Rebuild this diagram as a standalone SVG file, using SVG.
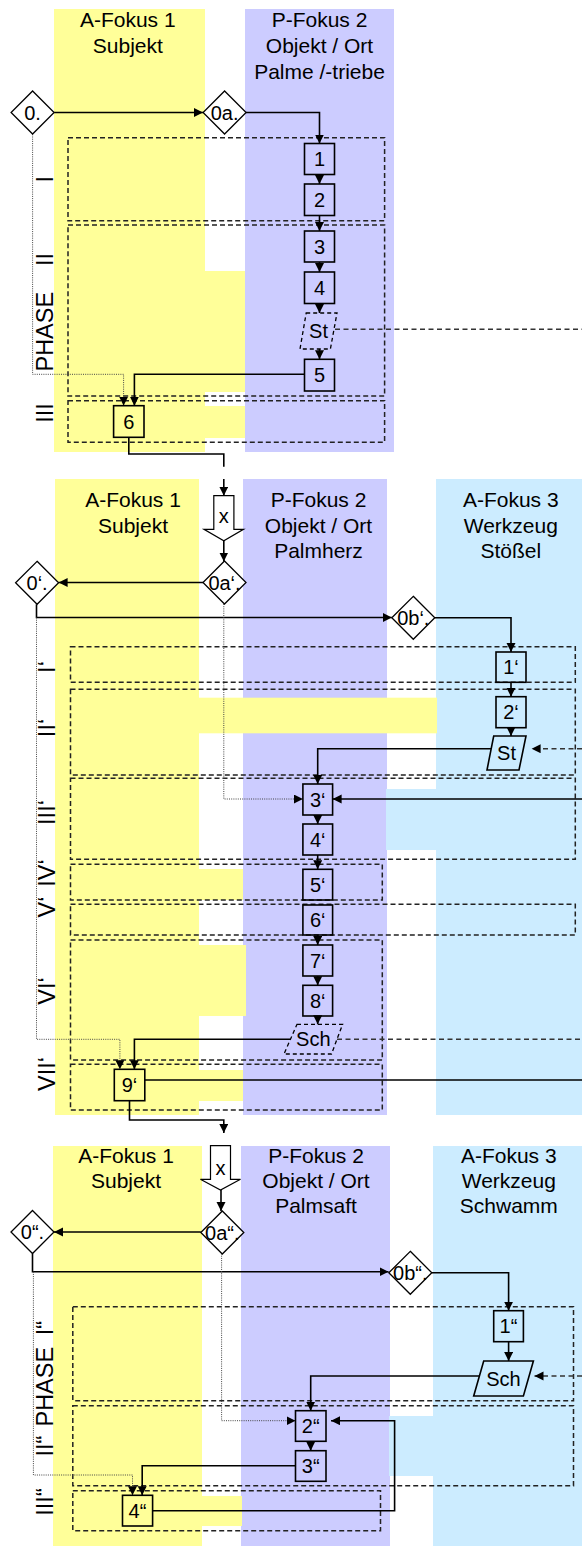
<svg xmlns="http://www.w3.org/2000/svg" width="582" height="1546" viewBox="0 0 582 1546">
<style>
text{font-family:"Liberation Sans",Arial,sans-serif;fill:#000}
.h{font-size:21px;text-anchor:middle}
.n{font-size:20px;text-anchor:middle}
.v{font-size:23.5px;text-anchor:middle}
.y{fill:#FFFF99}
.p{fill:#CCCCFF}
.b{fill:#CCECFF}
.ph{fill:none;stroke:#222;stroke-width:1.5;stroke-dasharray:5 3}
.c{fill:none;stroke:#000;stroke-width:1.6}
.ca{fill:none;stroke:#000;stroke-width:1.6;marker-end:url(#ah)}
.dt{fill:none;stroke:#444;stroke-width:1;stroke-dasharray:1 1.2}
.dta{fill:none;stroke:#444;stroke-width:1;stroke-dasharray:1 1.2;marker-end:url(#ah)}
.ds{fill:none;stroke:#333;stroke-width:1.5;stroke-dasharray:5 3.5}
.dsa{fill:none;stroke:#333;stroke-width:1.5;stroke-dasharray:5 3.5;marker-end:url(#ah)}
.bx{fill:none;stroke:#000;stroke-width:1.6}
.pd{fill:none;stroke:#000;stroke-width:1.3;stroke-dasharray:4 3}
.dm{fill:#fff;stroke:#000;stroke-width:1.3}
.xb{fill:#fff;stroke:#000;stroke-width:1.2}
</style>
<defs>
<marker id="ah" markerWidth="10" markerHeight="10" refX="9" refY="4.5" orient="auto" markerUnits="userSpaceOnUse"><path d="M0,0 L9,4.5 L0,9 z" fill="#000"/></marker>
</defs>

<g id="lanes">
<rect class="y" x="54" y="9" width="151" height="443"/>
<rect class="y" x="204" y="271" width="42" height="121"/>
<rect class="y" x="204" y="406" width="42" height="32"/>
<rect class="p" x="245" y="9" width="149" height="443"/>

<rect class="p" x="243" y="479" width="144" height="636"/>
<rect class="b" x="436" y="479" width="146" height="636"/>
<rect class="b" x="386" y="789" width="51" height="61"/>
<rect class="y" x="55" y="479" width="144" height="636"/>
<rect class="y" x="198" y="697.7" width="239" height="35.6"/>
<rect class="y" x="198" y="869" width="45" height="31"/>
<rect class="y" x="198" y="945" width="48" height="71"/>
<rect class="y" x="198" y="1070" width="45" height="31"/>

<rect class="p" x="241" y="1146" width="149" height="400"/>
<rect class="b" x="433" y="1146" width="149" height="400"/>
<rect class="b" x="389" y="1416" width="45" height="60"/>
<rect class="y" x="53" y="1146" width="149" height="400"/>
<rect class="y" x="201" y="1496" width="41" height="30"/>
</g>

<g id="headers">
<text class="h" x="127.8" y="26.7">A-Fokus 1</text>
<text class="h" x="127.8" y="53">Subjekt</text>
<text class="h" x="319.5" y="26.7">P-Fokus 2</text>
<text class="h" x="319.5" y="53">Objekt / Ort</text>
<text class="h" x="319.5" y="79.3">Palme /-triebe</text>

<text class="h" x="133" y="506.7">A-Fokus 1</text>
<text class="h" x="133" y="532.7">Subjekt</text>
<text class="h" x="318.5" y="506.7">P-Fokus 2</text>
<text class="h" x="318.5" y="532.7">Objekt / Ort</text>
<text class="h" x="318.5" y="558.3">Palmherz</text>
<text class="h" x="510.8" y="507">A-Fokus 3</text>
<text class="h" x="510.8" y="533">Werkzeug</text>
<text class="h" x="510.8" y="558.3">Stößel</text>

<text class="h" x="126" y="1162.7">A-Fokus 1</text>
<text class="h" x="126" y="1187.5">Subjekt</text>
<text class="h" x="316" y="1162.7">P-Fokus 2</text>
<text class="h" x="316" y="1187.5">Objekt / Ort</text>
<text class="h" x="316" y="1213.3">Palmsaft</text>
<text class="h" x="508.8" y="1162.7">A-Fokus 3</text>
<text class="h" x="508.8" y="1187.5">Werkzeug</text>
<text class="h" x="508.8" y="1213.3">Schwamm</text>
</g>

<g id="phases">
<rect class="ph" x="68" y="137.7" width="316.6" height="83"/>
<rect class="ph" x="68" y="225" width="316.6" height="171"/>
<rect class="ph" x="68" y="400.7" width="316.6" height="41.6"/>

<rect class="ph" x="70.5" y="646.7" width="504.8" height="35.6"/>
<rect class="ph" x="70.5" y="689.3" width="504.8" height="85.7"/>
<rect class="ph" x="70.5" y="778.3" width="504.8" height="81"/>
<rect class="ph" x="70.5" y="864.3" width="311.8" height="35.7"/>
<rect class="ph" x="70.5" y="904.3" width="504.8" height="30.7"/>
<rect class="ph" x="70.5" y="940" width="311.8" height="120"/>
<rect class="ph" x="70.5" y="1064.3" width="311.8" height="45.7"/>

<rect class="ph" x="72.8" y="1306.7" width="500.7" height="94"/>
<rect class="ph" x="72.8" y="1405.7" width="500.7" height="80"/>
<rect class="ph" x="72.8" y="1490.7" width="307.7" height="40"/>

<text class="v" transform="translate(53.3,179.3) rotate(-90)">I</text>
<text class="v" transform="translate(53.3,259.5) rotate(-90)">II</text>
<text class="v" transform="translate(53.3,331.7) rotate(-90)">PHASE</text>
<text class="v" transform="translate(53.3,413) rotate(-90)">III</text>

<text class="v" transform="translate(55,667) rotate(-90)">I‘</text>
<text class="v" transform="translate(55,728) rotate(-90)">II‘</text>
<text class="v" transform="translate(55,812.5) rotate(-90)">III‘</text>
<text class="v" transform="translate(55,873) rotate(-90)">IV‘</text>
<text class="v" transform="translate(55,907) rotate(-90)">V‘</text>
<text class="v" transform="translate(55,991) rotate(-90)">VI‘</text>
<text class="v" transform="translate(55,1074) rotate(-90)">VII‘</text>

<text class="v" transform="translate(53.3,1328) rotate(-90)">I“</text>
<text class="v" transform="translate(53.3,1386.7) rotate(-90)">PHASE</text>
<text class="v" transform="translate(53.3,1446) rotate(-90)">II“</text>
<text class="v" transform="translate(53.3,1502) rotate(-90)">III“</text>
</g>

<g id="connectors">
<path class="ca" d="M54.2,112.5 H203"/>
<path class="ca" d="M246,112.5 H319.5 V143.5"/>
<path class="ca" d="M319.5,174.5 V184"/>
<path class="ca" d="M319.5,215.5 V231"/>
<path class="ca" d="M319.5,262 V272"/>
<path class="ca" d="M319.5,303.5 V313"/>
<path class="ca" d="M319.5,349 V359.3"/>
<path class="ca" d="M304.5,374.3 H134.4 V405.7"/>
<path class="dta" d="M32.6,134.3 V374.3 H123.6 V405.7"/>
<path class="ds" d="M335,329.3 H582"/>
<path class="c" d="M128.8,437.3 V454 H223.8 V466.7"/>
<path class="ca" d="M223.8,479 V495.7"/>

<path class="ca" d="M223.8,540.7 V561.5"/>
<path class="ca" d="M203,582.5 H58.6"/>
<path class="ca" d="M36.5,604.3 V617.5 H391.8"/>
<path class="ca" d="M434.8,617.8 H511 V652"/>
<path class="ca" d="M511,682.3 V696.7"/>
<path class="ca" d="M511,727.7 V736"/>
<path class="dsa" d="M582,748.7 H531.6"/>
<path class="ca" d="M491,748.7 H317.7 V784"/>
<path class="dta" d="M223.8,604 V799 H302.9"/>
<path class="ca" d="M582,799 H332.6"/>
<path class="ca" d="M317.7,815 V824"/>
<path class="ca" d="M317.7,855 V869.3"/>
<path class="ca" d="M317.7,935 V945"/>
<path class="ca" d="M317.7,976 V985.3"/>
<path class="ca" d="M317.7,1016 V1024.3"/>
<path class="ds" d="M337,1039.3 H582"/>
<path class="ca" d="M290,1039.3 H134.4 V1069.3"/>
<path class="dta" d="M36.5,617.5 V1039.3 H119.9 V1069.3"/>
<path class="c" d="M144.8,1080 H582"/>
<path class="ca" d="M129.5,1100.7 V1120 H223.8 V1133"/>

<path class="ca" d="M221,1190 V1211"/>
<path class="ca" d="M200.8,1232 H54"/>
<path class="ca" d="M32.5,1253.5 V1271.7 H388.5"/>
<path class="ca" d="M431.8,1272.8 H508.6 V1310.7"/>
<path class="ca" d="M508.6,1341.7 V1361"/>
<path class="dsa" d="M582,1376 H534.5"/>
<path class="ca" d="M479,1376 H310.7 V1410.7"/>
<path class="dta" d="M221.6,1253.5 V1420.7 H295.5"/>
<path class="ca" d="M152.6,1510.7 H394.6 V1420.7 H331"/>
<path class="ca" d="M310.7,1441.3 V1450.7"/>
<path class="ca" d="M295.5,1465.7 H142.2 V1495.3"/>
<path class="dta" d="M33.4,1271.7 V1475 H132.5 V1495.3"/>
</g>

<g id="n0"><polygon class="dm" points="32.6,91 54.1,112.5 32.6,134 11.1,112.5"/><text class="n" x="32.6" y="119.5">0.</text></g>
<g id="n0a"><polygon class="dm" points="224.6,91 246.1,112.5 224.6,134 203.1,112.5"/><text class="n" x="224.6" y="119.5">0a.</text></g>
<g id="n1"><rect class="bx" x="304.5" y="143.5" width="30" height="31"/><text class="n" x="319.5" y="166">1</text></g>
<g id="n2"><rect class="bx" x="304.5" y="184" width="30" height="31.5"/><text class="n" x="319.5" y="207">2</text></g>
<g id="n3"><rect class="bx" x="304.5" y="231" width="30" height="31"/><text class="n" x="319.5" y="254">3</text></g>
<g id="n4"><rect class="bx" x="304.5" y="272" width="30" height="31.5"/><text class="n" x="319.5" y="295">4</text></g>
<g id="nSt"><polygon class="pd" points="306.2,313 337,313 330.4,349 300,349"/><text class="n" x="318.5" y="338">St</text></g>
<g id="n5"><rect class="bx" x="304.5" y="359.3" width="30" height="31.7"/><text class="n" x="319.5" y="382">5</text></g>
<g id="n6"><rect class="bx" x="113.6" y="405.7" width="30.4" height="31.6"/><text class="n" x="128.8" y="428.5">6</text></g>

<g id="nx1"><polygon class="xb" points="213.8,495.7 233.9,495.7 233.9,529.3 243.5,529.3 223.8,540.7 204,529.3 213.8,529.3"/><text class="n" x="223.8" y="523">x</text></g>
<g id="n0p"><polygon class="dm" points="37.1,561.3 58.6,582.8 37.1,604.3 15.6,582.8"/><text class="n" x="37.1" y="589.8">0‘.</text></g>
<g id="n0ap"><polygon class="dm" points="224.5,561 246,582.5 224.5,604 203,582.5"/><text class="n" x="224.5" y="589.5">0a‘.</text></g>
<g id="n0bp"><polygon class="dm" points="413.3,596.3 434.8,617.8 413.3,639.3 391.8,617.8"/><text class="n" x="413.3" y="624.8">0b‘.</text></g>
<g id="n1p"><rect class="bx" x="496" y="652" width="30" height="30.3"/><text class="n" x="511" y="674">1‘</text></g>
<g id="n2p"><rect class="bx" x="496" y="696.7" width="30" height="31"/><text class="n" x="511" y="719">2‘</text></g>
<g id="nStp"><polygon class="bx" points="493.7,736 526,736 519,770 487,770"/><text class="n" x="506.5" y="760">St</text></g>
<g id="n3p"><rect class="bx" x="302.9" y="784" width="29.7" height="31"/><text class="n" x="317.7" y="806.5">3‘</text></g>
<g id="n4p"><rect class="bx" x="302.9" y="824" width="29.7" height="31"/><text class="n" x="317.7" y="846.5">4‘</text></g>
<g id="n5p"><rect class="bx" x="302.9" y="869.3" width="29.7" height="30.7"/><text class="n" x="317.7" y="891.5">5‘</text></g>
<g id="n6p"><rect class="bx" x="302.9" y="905" width="29.7" height="30"/><text class="n" x="317.7" y="927">6‘</text></g>
<g id="n7p"><rect class="bx" x="302.9" y="945" width="29.7" height="31"/><text class="n" x="317.7" y="967.5">7‘</text></g>
<g id="n8p"><rect class="bx" x="302.9" y="985.3" width="29.7" height="30.7"/><text class="n" x="317.7" y="1008">8‘</text></g>
<g id="nSchp"><polygon class="pd" points="297,1024.3 342.6,1024.3 331.5,1054 284,1054"/><text class="n" x="313.3" y="1046">Sch</text></g>
<g id="n9p"><rect class="bx" x="114.3" y="1069.3" width="30.5" height="31.4"/><text class="n" x="129.5" y="1092">9‘</text></g>

<g id="nx2"><polygon class="xb" points="210.5,1145.7 230.5,1145.7 230.5,1179.3 240.5,1179.3 220.5,1190 200.4,1179.3 210.5,1179.3"/><text class="n" x="220.5" y="1175">x</text></g>
<g id="n0pp"><polygon class="dm" points="32.5,1210.5 54,1232 32.5,1253.5 11,1232"/><text class="n" x="32.5" y="1239">0“.</text></g>
<g id="n0app"><polygon class="dm" points="222.3,1211 243.8,1232.5 222.3,1254 200.8,1232.5"/><text class="n" x="222.3" y="1239.5">0a“.</text></g>
<g id="n0bpp"><polygon class="dm" points="410.3,1251.3 431.8,1272.8 410.3,1294.3 388.8,1272.8"/><text class="n" x="410.3" y="1279.8">0b“.</text></g>
<g id="n1pp"><rect class="bx" x="493.7" y="1310.7" width="29.7" height="31"/><text class="n" x="508.5" y="1333">1“</text></g>
<g id="nSchpp"><polygon class="bx" points="483.7,1361 533.4,1361 523.4,1396 473.7,1396"/><text class="n" x="503.5" y="1385.5">Sch</text></g>
<g id="n2pp"><rect class="bx" x="295.5" y="1410.7" width="30.5" height="30.6"/><text class="n" x="310.7" y="1433">2“</text></g>
<g id="n3pp"><rect class="bx" x="295.5" y="1450.7" width="30.5" height="30.6"/><text class="n" x="310.7" y="1473">3“</text></g>
<g id="n4pp"><rect class="bx" x="122.5" y="1495.3" width="30.1" height="30.7"/><text class="n" x="137.5" y="1517.5">4“</text></g>
</svg>
